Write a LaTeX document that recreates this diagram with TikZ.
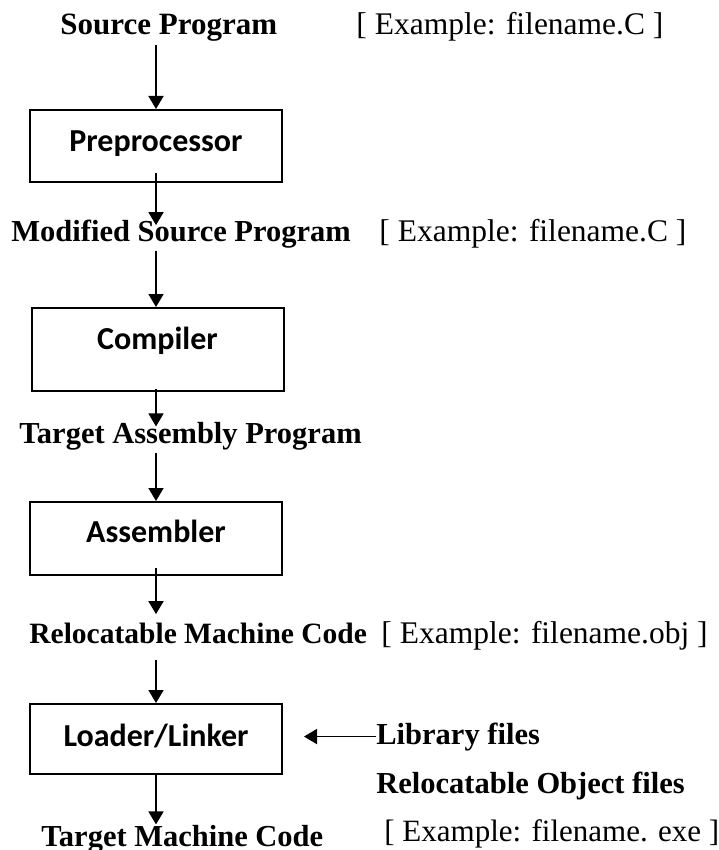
\documentclass[tikz,border=0pt]{standalone}
\usepackage{fontspec}
\setmainfont{Liberation Serif}
\newfontfamily\boxfont{Carlito}
\usetikzlibrary{arrows.meta}

\tikzset{
  stage/.style={draw, line width=1pt, minimum width=126pt, text height=10.3pt, font=\boxfont\bfseries\fontsize{16}{19}\selectfont},
  lbl/.style={anchor=base west, inner sep=0pt, font=\bfseries\fontsize{#1}{18}\selectfont},
  lbl/.default=15.25,
  ex/.style={anchor=base west, inner sep=0pt, font=\fontsize{#1}{18}\selectfont},
  ex/.default=15.75,
  flow/.style={line width=0.85pt, -{Triangle[width=7.5pt,length=6.5pt]}}
}

\begin{document}
\begin{tikzpicture}[x=0.5pt,y=-0.5pt]
\useasboundingbox (0,0) rectangle (718,850);

\node[lbl=15.5] (src) at (60,35) {Source Program};
\node[ex] (srcex) at (356,35) {[ Example: filename.C ]};
\node[lbl] (mod) at (11,242) {Modified Source Program};
\node[ex] (modex) at (379,242) {[ Example: filename.C ]};
\node[lbl] (asm) at (19,443) {Target Assembly Program};
\node[lbl=14.75] (reloc) at (29,643) {Relocatable Machine Code};
\node[ex] (relocex) at (381,643) {[ Example: filename.obj ]};
\node[lbl] (lib) at (376,744) {Library files};
\node[lbl] (robj) at (376,793) {Relocatable Object files};
\node[lbl] (tmc) at (41,846) {Target Machine Code};
\node[ex=15.5] (tmcex) at (384,841) {[ Example: filename. exe ]};

\node[stage, minimum height=36pt, text depth=4.5pt] (pre) at (156,146) {Preprocessor};
\node[stage, minimum height=41.5pt, text depth=10pt] (comp) at (157.5,349.5) {Compiler};
\node[stage, minimum height=36.5pt, text depth=6pt] (asmb) at (156,538.5) {Assembler};
\node[stage, minimum height=35pt, text depth=2.5pt] (load) at (156,739) {Loader/Linker};

\foreach \a/\b/\s/\e in {src/pre/1.5/0, pre/mod/-5/-2.5, mod/comp/0.7/0, comp/asm/-1.5/-2.5,
    asm/asmb/1.2/0, asmb/reloc/-4/4, reloc/load/8/0, load/tmc/0/0}
  \draw[flow, shorten <=\s pt, shorten >=\e pt] (pre.center |- \a.south) -- (pre.center |- \b.north);
\draw[flow, shorten >=10.5pt] (lib.west) -- (lib.west -| load.east);
\end{tikzpicture}
\end{document}
